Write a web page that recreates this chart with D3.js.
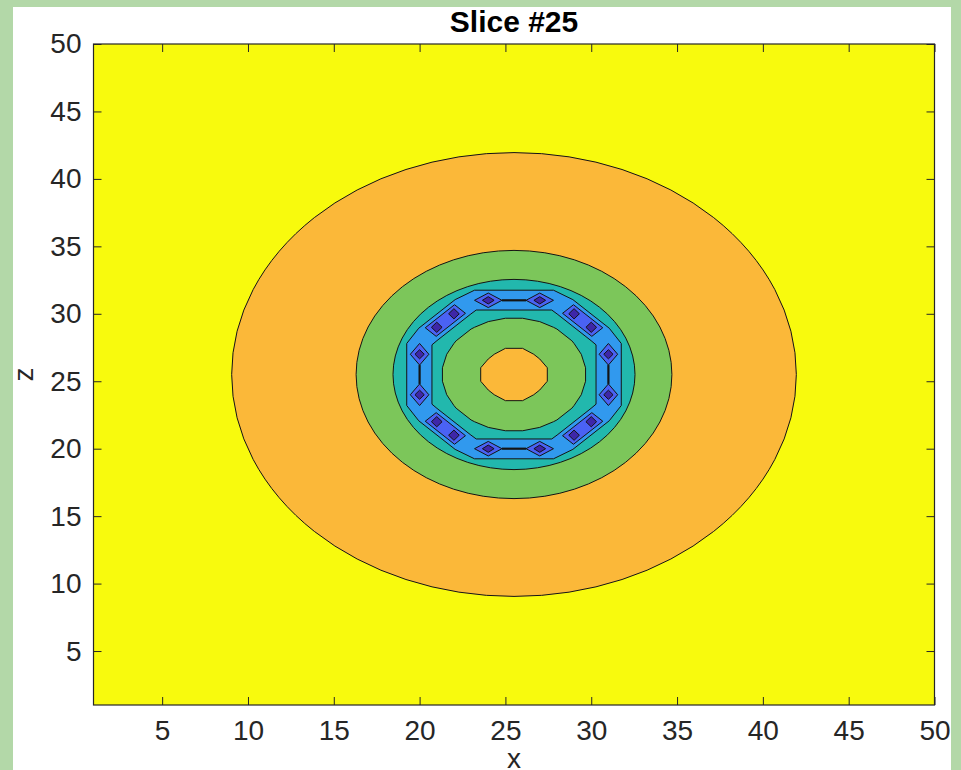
<!DOCTYPE html>
<html>
<head>
<meta charset="utf-8">
<script src="https://cdn.jsdelivr.net/npm/d3@7"></script>
<style>
  body { margin: 0; background: #b3d8a8; }
  svg { display: block; }
  text { font-family: "Liberation Sans", Arial, Helvetica, sans-serif; }
</style>
</head>
<body>
<div id="chartContainer"></div>
<script>
// axis ticks
const xTicks = [5, 10, 15, 20, 25, 30, 35, 40, 45, 50];
const zTicks = [5, 10, 15, 20, 25, 30, 35, 40, 45, 50];

// level colours (parula), highest -> lowest
const levelNames = ["yellow", "orange", "green", "teal", "blue", "indigo", "purple"];
const levelColors = ["#f8fa0d", "#fbb839", "#7cc65a", "#22b8ad", "#3199ee", "#4a62f4", "#3e26a8"];

// field centre and the smooth outer contours (radius, level inside)
const fieldCenter = [25.5, 25.5];
const ringRadii = [16.45, 9.2, 7.05];
const ringLevels = ["orange", "green", "teal"];

// polygonal inner contours, vertices in (x, z)
const blueOuter = [[23.2, 31.75], [27.8, 31.75], [28.93, 31.05], [31.05, 28.93], [31.75, 27.8], [31.75, 23.2],
  [31.05, 22.07], [28.93, 19.95], [27.8, 19.25], [23.2, 19.25], [22.07, 19.95], [19.95, 22.07],
  [19.25, 23.2], [19.25, 27.8], [19.95, 28.93], [22.07, 31.05]];
const blueInner = [[23.3, 30.28], [27.7, 30.28], [28.01, 29.99], [29.99, 28.01], [30.28, 27.7], [30.28, 23.3],
  [29.99, 22.99], [28.01, 21.01], [27.7, 20.72], [23.3, 20.72], [22.99, 21.01], [21.01, 22.99],
  [20.72, 23.3], [20.72, 27.7], [21.01, 28.01], [22.99, 29.99]];
const greenInner = [[26, 29.67], [27, 29.42], [27.8, 29], [28, 28.87], [28.87, 28], [29, 27.8], [29.42, 27], [29.67, 26],
  [29.67, 25], [29.42, 24], [29, 23.2], [28.87, 23], [28, 22.13], [27.8, 22], [27, 21.58], [26, 21.33],
  [25, 21.33], [24, 21.58], [23.2, 22], [23, 22.13], [22.13, 23], [22, 23.2], [21.58, 24], [21.33, 25],
  [21.33, 26], [21.58, 27], [22, 27.8], [22.13, 28], [23, 28.87], [23.2, 29], [24, 29.42], [25, 29.67]];
const coreOrange = [[25, 27.44], [26, 27.44], [26.65, 27], [27, 26.65], [27.44, 26], [27.44, 25], [27, 24.35], [26.65, 24],
  [26, 23.56], [25, 23.56], [24.35, 24], [24, 24.35], [23.56, 25], [23.56, 26], [24, 26.65], [24.35, 27]];

// lowest points on the ring: pairs along the axes and pairs on the diagonals
const axisPairs = [[[24, 31], [27, 31]], [[31, 27], [31, 24]], [[27, 20], [24, 20]], [[20, 24], [20, 27]]];
const diagPairs = [[[21, 29], [22, 30]], [[29, 30], [30, 29]], [[30, 22], [29, 21]], [[22, 21], [21, 22]]];

function init() {
    const W = 961, H = 770;
    const plot = { left: 93.5, right: 934.5, top: 44, bottom: 705 };
    const color = name => levelColors[levelNames.indexOf(name)];

    const svg = d3.select("#chartContainer").append("svg")
        .attr("width", W)
        .attr("height", H);

    // white figure panel on the green page
    svg.append("rect")
        .attr("x", 13).attr("y", 7)
        .attr("width", 938).attr("height", H)
        .attr("fill", "#ffffff");

    const x = d3.scaleLinear().domain([1, 50]).range([plot.left, plot.right]);
    const y = d3.scaleLinear().domain([1, 50]).range([plot.bottom, plot.top]);

    const g = svg.append("g");
    const lineStroke = "#141414";

    // lowest fill: whole domain
    g.append("rect")
        .attr("x", x(1)).attr("y", y(50))
        .attr("width", x(50) - x(1)).attr("height", y(1) - y(50))
        .attr("fill", color("yellow"));

    // smooth outer contours
    g.selectAll(".ring")
        .data(ringRadii)
        .enter()
        .append("ellipse")
        .attr("class", "ring")
        .attr("cx", x(fieldCenter[0]))
        .attr("cy", y(fieldCenter[1]))
        .attr("rx", r => x(fieldCenter[0] + r) - x(fieldCenter[0]))
        .attr("ry", r => y(fieldCenter[1]) - y(fieldCenter[1] + r))
        .attr("fill", (r, i) => color(ringLevels[i]))
        .attr("stroke", lineStroke)
        .attr("stroke-width", 1);

    const poly = d3.line()
        .x(d => x(d[0]))
        .y(d => y(d[1]))
        .curve(d3.curveLinearClosed);

    const polys = [
        [blueOuter, "blue"],
        [blueInner, "teal"],
        [greenInner, "green"],
        [coreOrange, "orange"]
    ];
    polys.forEach(([pts, lvl]) => {
        g.append("path")
            .attr("d", poly(pts))
            .attr("fill", color(lvl))
            .attr("stroke", lineStroke)
            .attr("stroke-width", 1);
    });

    // rhombus around a point, half sizes in data units
    function rhombus(p, hx, hz) {
        return [[p[0] - hx, p[1]], [p[0], p[1] + hz], [p[0] + hx, p[1]], [p[0], p[1] - hz]];
    }

    // diagonal pairs: one band enclosing both points
    diagPairs.forEach(([p1, p2]) => {
        const dx = p2[0] - p1[0], dz = p2[1] - p1[1];
        const len = Math.hypot(dx, dz);
        const t = [dx / len, dz / len];
        const n = [-t[1], t[0]];
        const a = 0.5, b = 0.45;
        const band = [
            [p1[0] - a * t[0] + b * n[0], p1[1] - a * t[1] + b * n[1]],
            [p2[0] + a * t[0] + b * n[0], p2[1] + a * t[1] + b * n[1]],
            [p2[0] + a * t[0] - b * n[0], p2[1] + a * t[1] - b * n[1]],
            [p1[0] - a * t[0] - b * n[0], p1[1] - a * t[1] - b * n[1]]
        ];
        g.append("path")
            .attr("d", poly(band))
            .attr("fill", color("indigo"))
            .attr("stroke", lineStroke)
            .attr("stroke-width", 1);
        [p1, p2].forEach(p => {
            g.append("path")
                .attr("d", poly(rhombus(p, 0.31, 0.38)))
                .attr("fill", color("purple"))
                .attr("stroke", lineStroke)
                .attr("stroke-width", 1);
        });
    });

    // axis pairs: separate diamonds joined by a doubled contour line
    axisPairs.forEach(([p1, p2]) => {
        const horizontal = p1[1] === p2[1];
        const ht = 0.8, hr = 0.54;
        [p1, p2].forEach(p => {
            const outer = horizontal ? rhombus(p, ht, hr) : rhombus(p, hr, ht);
            const inner = horizontal ? rhombus(p, 0.34, 0.27) : rhombus(p, 0.27, 0.34);
            g.append("path")
                .attr("d", poly(outer))
                .attr("fill", color("indigo"))
                .attr("stroke", lineStroke)
                .attr("stroke-width", 1);
            g.append("path")
                .attr("d", poly(inner))
                .attr("fill", color("purple"))
                .attr("stroke", lineStroke)
                .attr("stroke-width", 1);
        });
        const lo = horizontal ? [Math.min(p1[0], p2[0]) + ht, p1[1]] : [p1[0], Math.min(p1[1], p2[1]) + ht];
        const hi = horizontal ? [Math.max(p1[0], p2[0]) - ht, p1[1]] : [p1[0], Math.max(p1[1], p2[1]) - ht];
        g.append("line")
            .attr("x1", x(lo[0])).attr("y1", y(lo[1]))
            .attr("x2", x(hi[0])).attr("y2", y(hi[1]))
            .attr("stroke", lineStroke)
            .attr("stroke-width", 2.2);
    });

    // axes, ticks pointing inward on all four sides
    const axisColor = "#262626";
    const tickFont = "28px";

    svg.append("g")
        .attr("transform", `translate(0, ${plot.bottom})`)
        .call(d3.axisBottom(x).tickValues(xTicks).tickSize(-8).tickPadding(15));
    svg.append("g")
        .attr("transform", `translate(${plot.left}, 0)`)
        .call(d3.axisLeft(y).tickValues(zTicks).tickSize(-8).tickPadding(12));
    svg.append("g")
        .attr("transform", `translate(0, ${plot.top})`)
        .call(d3.axisTop(x).tickValues(xTicks).tickSize(-8).tickFormat(""));
    svg.append("g")
        .attr("transform", `translate(${plot.right}, 0)`)
        .call(d3.axisRight(y).tickValues(zTicks).tickSize(-8).tickFormat(""));

    svg.selectAll(".domain").remove();
    svg.selectAll(".tick line").attr("stroke", axisColor).attr("stroke-width", 1);
    svg.selectAll(".tick text")
        .attr("fill", axisColor)
        .style("font-size", tickFont)
        .style("font-family", "'Liberation Sans', Arial, sans-serif");

    svg.append("rect")
        .attr("x", plot.left).attr("y", plot.top)
        .attr("width", plot.right - plot.left).attr("height", plot.bottom - plot.top)
        .attr("fill", "none")
        .attr("stroke", axisColor)
        .attr("stroke-width", 1.2);

    // title and axis labels
    svg.append("text")
        .attr("x", (plot.left + plot.right) / 2)
        .attr("y", 32)
        .attr("text-anchor", "middle")
        .style("font-size", "30px")
        .style("font-weight", "bold")
        .style("fill", "#000")
        .text("Slice #25");

    svg.append("text")
        .attr("x", (plot.left + plot.right) / 2)
        .attr("y", 768)
        .attr("text-anchor", "middle")
        .style("font-size", tickFont)
        .style("fill", axisColor)
        .text("x");

    svg.append("text")
        .attr("transform", `translate(33, ${(plot.top + plot.bottom) / 2}) rotate(-90)`)
        .attr("text-anchor", "middle")
        .style("font-size", tickFont)
        .style("fill", axisColor)
        .text("z");
}
window.onload = init;
</script>
</body>
</html>
